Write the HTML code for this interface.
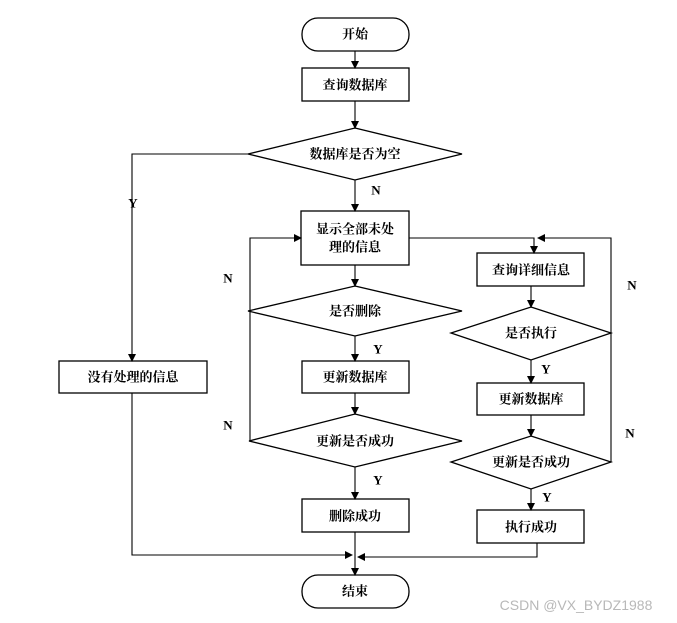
<!DOCTYPE html>
<html><head><meta charset="utf-8"><style>
body{margin:0;background:#fff;}
svg{display:block}
text{font-family:"Liberation Serif","Noto Serif CJK SC",serif;font-weight:bold;font-size:13px;fill:#000;text-anchor:middle;dominant-baseline:central}
.l{font-size:13px}
</style></head><body>
<svg width="677" height="623" viewBox="0 0 677 623" xmlns="http://www.w3.org/2000/svg">
<defs><marker id="a" markerWidth="8" markerHeight="8" refX="7" refY="4" orient="auto" markerUnits="userSpaceOnUse"><path d="M0,0 L8,4 L0,8 z" fill="#000"/></marker></defs>
<g fill="none" stroke="#000" stroke-width="1.3">
<rect x="302" y="18" width="107" height="33" rx="16"/>
<rect x="302" y="68" width="107" height="33"/>
<polygon points="355,128 462,154 355,180 248,154"/>
<rect x="301" y="211" width="108" height="54"/>
<polygon points="355,286 462,311 355,336 248,311"/>
<rect x="302" y="361" width="107" height="32"/>
<polygon points="355,414 462,441 355,467 249,441"/>
<rect x="302" y="499" width="107" height="33"/>
<rect x="302" y="575" width="107" height="33" rx="16"/>
<rect x="59" y="361" width="148" height="32"/>
<rect x="477" y="253" width="107" height="33"/>
<polygon points="531,307 611,333 531,360 451,333"/>
<rect x="477" y="383" width="107" height="32"/>
<polygon points="531,436 611,462 531,489 451,462"/>
<rect x="477" y="510" width="107" height="33"/>
</g>
<g fill="none" stroke="#000" stroke-width="1.1">
<path d="M355,51 V68" marker-end="url(#a)"/>
<path d="M355,101 V128" marker-end="url(#a)"/>
<path d="M355,180 V211" marker-end="url(#a)"/>
<path d="M248,154 H132 V361" marker-end="url(#a)"/>
<path d="M355,265 V286" marker-end="url(#a)"/>
<path d="M355,336 V361" marker-end="url(#a)"/>
<path d="M355,393 V414" marker-end="url(#a)"/>
<path d="M355,467 V499" marker-end="url(#a)"/>
<path d="M355,532 V575" marker-end="url(#a)"/>
<path d="M249,311 H250 M250,441 V238 H301" marker-end="url(#a)"/>
<path d="M250,441 H249"/>
<path d="M132,393 V555 H352" marker-end="url(#a)"/>
<path d="M537,543 V557 H358" marker-end="url(#a)"/>
<path d="M409,238 H534 V253" marker-end="url(#a)"/>
<path d="M611,333 V238 H538" marker-end="url(#a)"/>
<path d="M611,462 V333"/>
<path d="M531,286 V307" marker-end="url(#a)"/>
<path d="M531,360 V383" marker-end="url(#a)"/>
<path d="M531,415 V436" marker-end="url(#a)"/>
<path d="M531,489 V510" marker-end="url(#a)"/>
</g>
<text x="355" y="34">开始</text>
<text x="355" y="85">查询数据库</text>
<text x="355" y="154">数据库是否为空</text>
<text x="355" y="229">显示全部未处</text>
<text x="355" y="247">理的信息</text>
<text x="355" y="311">是否删除</text>
<text x="355" y="377">更新数据库</text>
<text x="355" y="441">更新是否成功</text>
<text x="355" y="516">删除成功</text>
<text x="355" y="591">结束</text>
<text x="133" y="377">没有处理的信息</text>
<text x="531" y="270">查询详细信息</text>
<text x="531" y="333">是否执行</text>
<text x="531" y="399">更新数据库</text>
<text x="531" y="462">更新是否成功</text>
<text x="531" y="527">执行成功</text>
<text x="133" y="203">Y</text>
<text x="376" y="190">N</text>
<text x="228" y="278">N</text>
<text x="378" y="349">Y</text>
<text x="228" y="425">N</text>
<text x="378" y="480">Y</text>
<text x="632" y="285">N</text>
<text x="546" y="369">Y</text>
<text x="630" y="433">N</text>
<text x="547" y="497">Y</text>
<text x="576" y="605" style="font-family:'Liberation Sans','DejaVu Sans',sans-serif;font-weight:normal;font-size:14px;fill:#b8b8b8">CSDN @VX_BYDZ1988</text>
</svg>
</body></html>
